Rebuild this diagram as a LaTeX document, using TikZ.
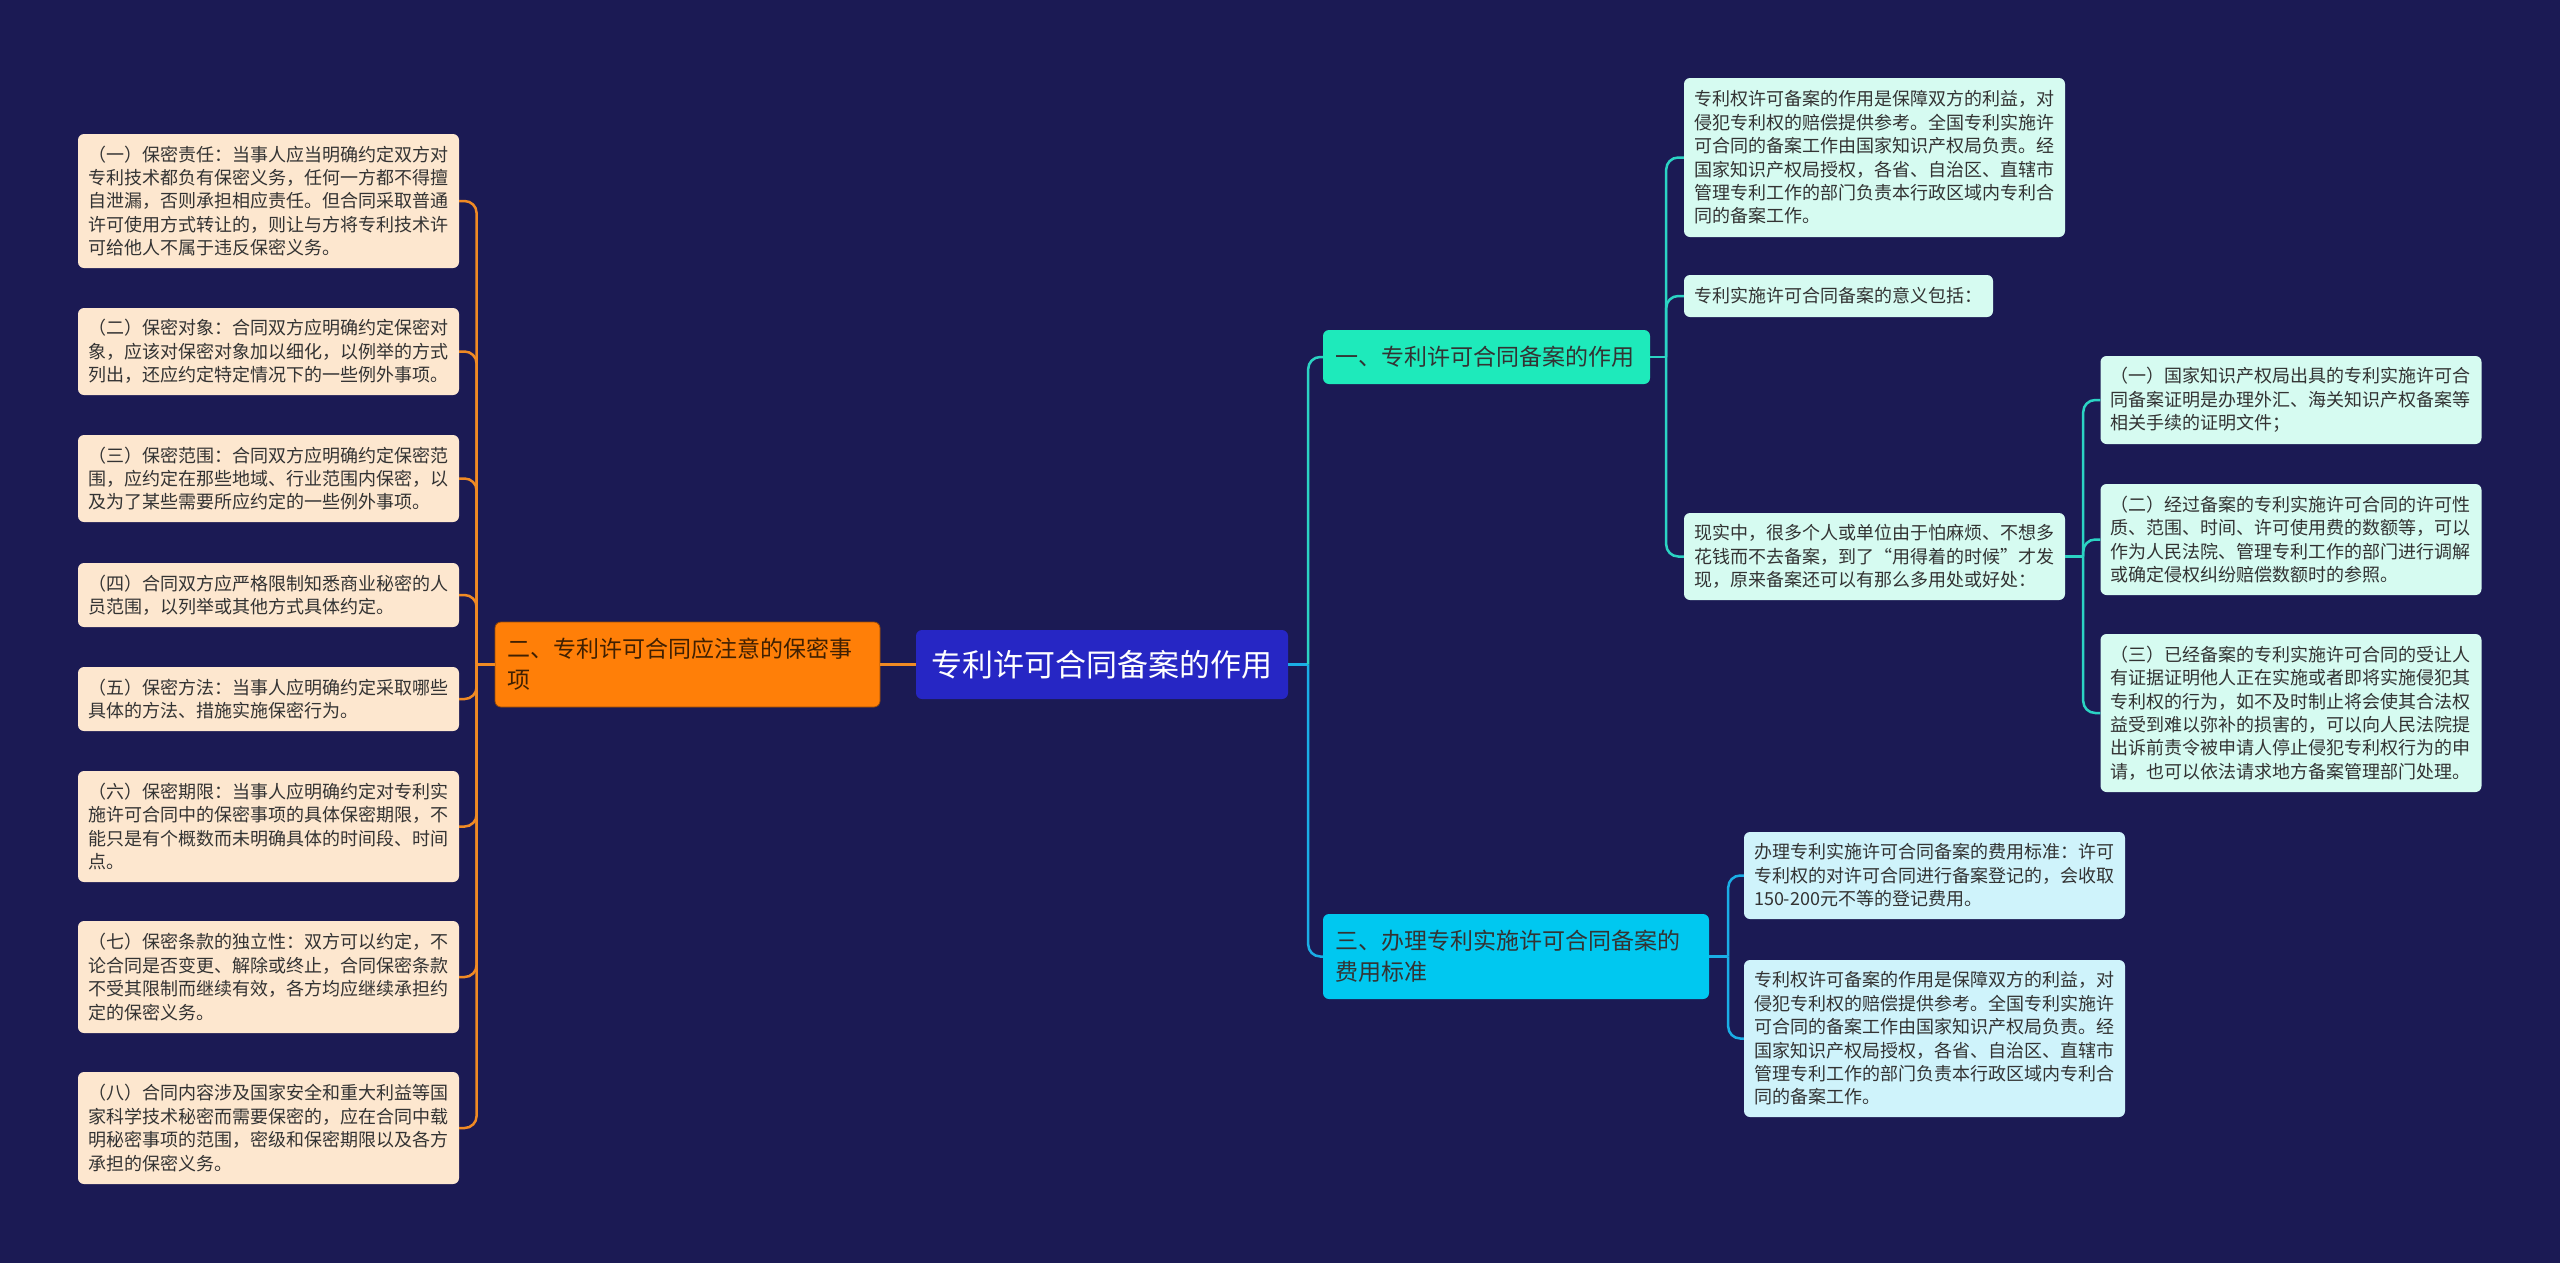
\documentclass[tikz,border=0pt]{standalone}
\usepackage{fontspec}
\newfontfamily\cjk{Noto Sans CJK SC}
\definecolor{bg}{HTML}{1B1A54}
\definecolor{rootc}{HTML}{2626C4}
\definecolor{orangec}{HTML}{FF7F08}
\definecolor{peach}{HTML}{FDE7CF}
\definecolor{oline}{HTML}{F08A24}
\definecolor{tealc}{HTML}{1EEABB}
\definecolor{mint}{HTML}{D6FBF1}
\definecolor{tline}{HTML}{2BD3C3}
\definecolor{sky}{HTML}{00C8F0}
\definecolor{ice}{HTML}{CFF3FB}
\definecolor{sline}{HTML}{1AAEE6}
\definecolor{txt}{HTML}{333333}
\tikzset{
  box/.style={rounded corners=6pt, inner xsep=10pt, inner ysep=0pt, align=left,
    font=\cjk\fontsize{18}{23.4}\selectfont, text=txt, anchor=center},
  leafo/.style={box, fill=peach, text width=361pt},
  leaft/.style={box, fill=mint, text width=361pt},
  leafs/.style={box, fill=ice, text width=361pt},
  branch/.style={rounded corners=6pt, inner xsep=12pt, inner ysep=0pt, align=left,
    font=\cjk\fontsize{23}{31}\selectfont, text=txt, anchor=center},
  conn/.style={line width=2.5pt, rounded corners=12pt},
  oconn/.style={conn, draw=oline},
  tconn/.style={conn, draw=tline},
  sconn/.style={conn, draw=sline},
}
\begin{document}
\begin{tikzpicture}[x=1pt,y=-1pt]
\useasboundingbox (0,0) rectangle (2560,1262);
\fill[bg] (-5,-5) rectangle (2565,1267);

% root
\node[rounded corners=6pt, fill=rootc, text=white, minimum width=372pt, minimum height=69pt,
  inner sep=0pt, font=\cjk\fontsize{31}{36}\selectfont] (R) at (1102,664.5) {专利许可合同备案的作用};

% orange branch
\node[branch, fill=orangec, draw=orangec!60!black, line width=0.8pt, text width=361pt, minimum height=85pt, text=black!75!orangec] (O) at (687.5,664.5)
  {二、专利许可合同应注意的保密事\\项};

% left leaves
\node[leafo, minimum height=134pt] (L1) at (268.5,201)
  {（一）保密责任：当事人应当明确约定双方对\\专利技术都负有保密义务，任何一方都不得擅\\自泄漏，否则承担相应责任。但合同采取普通\\许可使用方式转让的，则让与方将专利技术许\\可给他人不属于违反保密义务。};
\node[leafo, minimum height=87pt] (L2) at (268.5,351.5)
  {（二）保密对象：合同双方应明确约定保密对\\象，应该对保密对象加以细化，以例举的方式\\列出，还应约定特定情况下的一些例外事项。};
\node[leafo, minimum height=87pt] (L3) at (268.5,478.5)
  {（三）保密范围：合同双方应明确约定保密范\\围，应约定在那些地域、行业范围内保密，以\\及为了某些需要所应约定的一些例外事项。};
\node[leafo, minimum height=64pt] (L4) at (268.5,595)
  {（四）合同双方应严格限制知悉商业秘密的人\\员范围，以列举或其他方式具体约定。};
\node[leafo, minimum height=64pt] (L5) at (268.5,699)
  {（五）保密方法：当事人应明确约定采取哪些\\具体的方法、措施实施保密行为。};
\node[leafo, minimum height=111pt] (L6) at (268.5,826.5)
  {（六）保密期限：当事人应明确约定对专利实\\施许可合同中的保密事项的具体保密期限，不\\能只是有个概数而未明确具体的时间段、时间\\点。};
\node[leafo, minimum height=112pt] (L7) at (268.5,977)
  {（七）保密条款的独立性：双方可以约定，不\\论合同是否变更、解除或终止，合同保密条款\\不受其限制而继续有效，各方均应继续承担约\\定的保密义务。};
\node[leafo, minimum height=112pt] (L8) at (268.5,1128)
  {（八）合同内容涉及国家安全和重大利益等国\\家科学技术秘密而需要保密的，应在合同中载\\明秘密事项的范围，密级和保密期限以及各方\\承担的保密义务。};

% branch one
\node[branch, fill=tealc, text width=303pt, minimum height=54pt] (B1) at (1486.5,357)
  {一、专利许可合同备案的作用};
\node[leaft, minimum height=159pt] (C1) at (1874.5,157.5)
  {专利权许可备案的作用是保障双方的利益，对\\侵犯专利权的赔偿提供参考。全国专利实施许\\可合同的备案工作由国家知识产权局负责。经\\国家知识产权局授权，各省、自治区、直辖市\\管理专利工作的部门负责本行政区域内专利合\\同的备案工作。};
\node[box, fill=mint, text width=289pt, minimum height=42pt] (C2) at (1838.5,296)
  {专利实施许可合同备案的意义包括：};
\node[leaft, minimum height=87pt] (C3) at (1874.5,556.5)
  {现实中，很多个人或单位由于怕麻烦、不想多\\花钱而不去备案，到了“用得着的时候”才发\\现，原来备案还可以有那么多用处或好处：};
\node[leaft, minimum height=88pt] (G1) at (2291,400)
  {（一）国家知识产权局出具的专利实施许可合\\同备案证明是办理外汇、海关知识产权备案等\\相关手续的证明文件；};
\node[leaft, minimum height=111pt] (G2) at (2291,539.5)
  {（二）经过备案的专利实施许可合同的许可性\\质、范围、时间、许可使用费的数额等，可以\\作为人民法院、管理专利工作的部门进行调解\\或确定侵权纠纷赔偿数额时的参照。};
\node[leaft, minimum height=158pt] (G3) at (2291,713)
  {（三）已经备案的专利实施许可合同的受让人\\有证据证明他人正在实施或者即将实施侵犯其\\专利权的行为，如不及时制止将会使其合法权\\益受到难以弥补的损害的，可以向人民法院提\\出诉前责令被申请人停止侵犯专利权行为的申\\请，也可以依法请求地方备案管理部门处理。};

% branch three
\node[branch, fill=sky, text width=362pt, minimum height=85pt] (B3) at (1516,956.5)
  {三、办理专利实施许可合同备案的\\费用标准};
\node[leafs, minimum height=87pt] (S1) at (1934.5,875.5)
  {办理专利实施许可合同备案的费用标准：许可\\专利权的对许可合同进行备案登记的，会收取\\150-200元不等的登记费用。};
\node[leafs, minimum height=157pt] (S2) at (1934.5,1038.5)
  {专利权许可备案的作用是保障双方的利益，对\\侵犯专利权的赔偿提供参考。全国专利实施许\\可合同的备案工作由国家知识产权局负责。经\\国家知识产权局授权，各省、自治区、直辖市\\管理专利工作的部门负责本行政区域内专利合\\同的备案工作。};

% connectors
\draw[oconn] (R.west) -- (O.east);
\draw[oconn] (O.west) -- ++(-18,0);
\foreach \n in {L1,L2,L3,L4,L5,L6,L7,L8}
  \draw[oconn] (O.west) ++(-18,0) |- (\n.east);
\draw[sline, line width=2.5pt] (R.east) -- ++(20,0);
\draw[tconn] (R.east) ++(20,0) |- (B1.west);
\draw[sconn] (R.east) ++(20,0) |- (B3.west);
\draw[tconn] (B1.east) -- ++(16,0);
\foreach \n in {C1,C2,C3}
  \draw[tconn] (B1.east) ++(16,0) |- (\n.west);
\draw[tconn] (C3.east) -- ++(18,0);
\foreach \n in {G1,G2,G3}
  \draw[tconn] (C3.east) ++(18,0) |- (\n.west);
\draw[sconn] (B3.east) -- ++(19,0);
\foreach \n in {S1,S2}
  \draw[sconn] (B3.east) ++(19,0) |- (\n.west);
\end{tikzpicture}
\end{document}
